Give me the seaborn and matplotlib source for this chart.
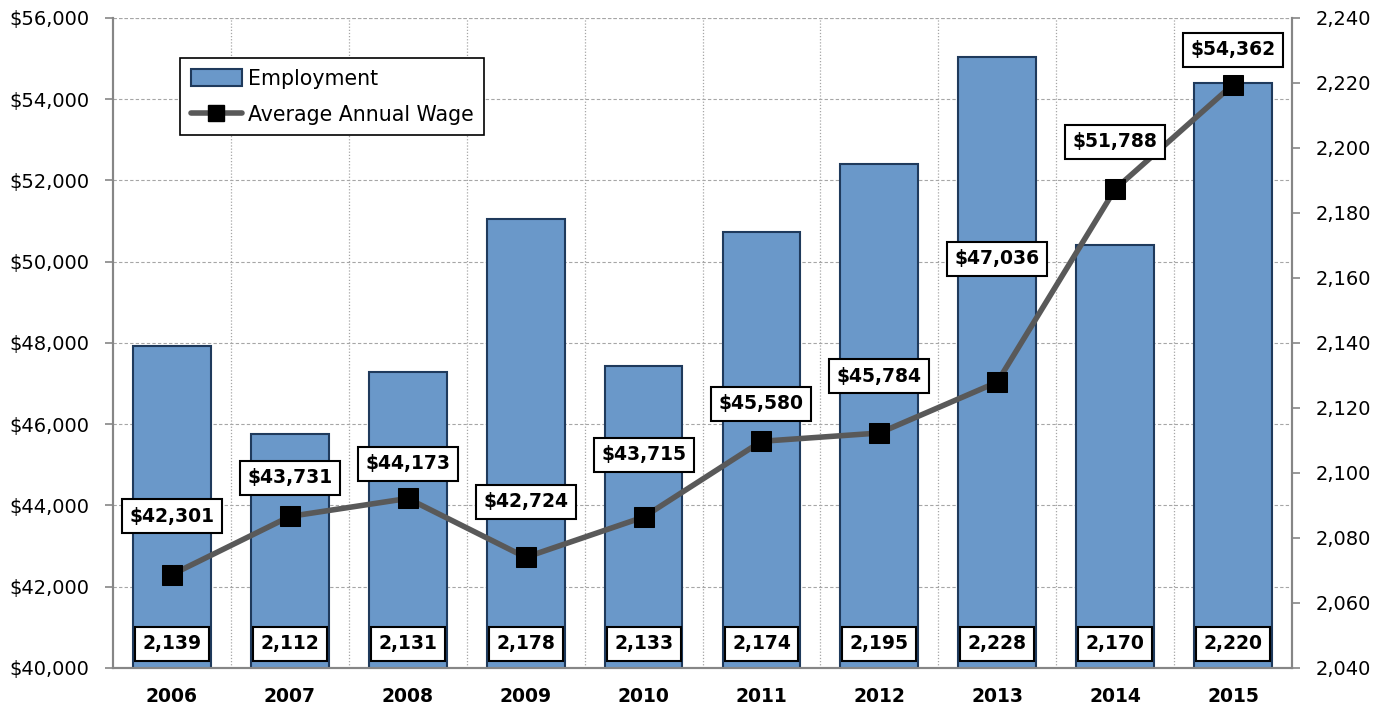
import matplotlib
matplotlib.use("Agg")
import matplotlib.pyplot as plt
import seaborn as sns
import pandas as pd
import numpy as np
from matplotlib.lines import Line2D
from matplotlib.patches import Patch
from matplotlib.ticker import FuncFormatter

# data
years = ["2006", "2007", "2008", "2009", "2010", "2011", "2012", "2013", "2014", "2015"]
employment = [2139, 2112, 2131, 2178, 2133, 2174, 2195, 2228, 2170, 2220]
avg_wage = [42301, 43731, 44173, 42724, 43715, 45580, 45784, 47036, 51788, 54362]

# label offsets above each wage point (points)
wage_label_dy = [42, 28, 25, 40, 45, 27, 41, 89, 34, 25]

df = pd.DataFrame({"year": years, "employment": employment, "wage": avg_wage})

sns.set_theme(style="white")
plt.rcParams["font.family"] = ["DejaVu Sans"]
plt.rcParams["text.color"] = "black"

BAR = "#6A98C9"
EDGE = "#1F3A5C"
GRID = "#A6A6A6"
SPINE = "#868686"

fig = plt.figure(figsize=(13.87, 7.11), dpi=100)
ax = fig.add_axes([0.0815, 0.0605, 0.850, 0.9142])

# bars (employment) on the primary axes, shown on the right
sns.barplot(data=df, x="year", y="employment", color=BAR, width=0.66,
            edgecolor=EDGE, linewidth=1.5, saturation=1, ax=ax, zorder=2)
ax.set_ylim(2040, 2240)
ax.set_xlim(-0.5, len(years) - 0.5)

# horizontal grid following the wage ticks (behind the bars)
for g in np.linspace(2040, 2240, 9)[1:]:
    ax.axhline(g, color=GRID, lw=0.8, ls=(0, (3, 2)), zorder=0)
# vertical dotted grid at category boundaries
for b in np.arange(0.5, len(years) - 0.5, 1):
    ax.axvline(b, color=GRID, lw=0.9, ls=(0, (1, 1.5)), zorder=0)

ax.set_xlabel("")
ax.set_ylabel("")
ax.set_xticks(range(len(years)))
ax.set_xticklabels(years, fontsize=13.5, fontweight="bold")
ax.set_xticks(np.arange(-0.5, len(years), 1), minor=True)
ax.tick_params(axis="x", which="major", length=0, pad=14, labelcolor="black")
ax.tick_params(axis="x", which="minor", length=7, width=1.2, color=SPINE, direction="out")

for i, v in enumerate(employment):
    ax.text(i, 2040 + 7.5, f"{v:,}", ha="center", va="center", fontsize=13.5,
            fontweight="bold", zorder=5,
            bbox=dict(boxstyle="square,pad=0.4", fc="white", ec="black", lw=1.5))

# wage line on twin axes, shown on the left
ax2 = ax.twinx()
sns.lineplot(data=df, x="year", y="wage", color="#595959", lw=4, marker="s",
             markersize=14, markerfacecolor="black", markeredgecolor="black",
             ax=ax2, zorder=3, sort=False)
ax2.set_ylim(40000, 56000)
ax2.set_yticks(np.arange(40000, 56001, 2000))
ax2.yaxis.set_major_formatter(FuncFormatter(lambda v, p: f"${int(v):,}"))
ax2.yaxis.tick_left()
ax2.set_ylabel("")
ax2.set_xlabel("")

# twinx flips the primary axis to the left, so put it back on the right
ax.yaxis.tick_right()
ax.set_yticks(np.arange(2040, 2241, 20))
ax.yaxis.set_major_formatter(FuncFormatter(lambda v, p: f"{int(v):,}"))
ax.tick_params(axis="y", which="major", length=6, width=1.2, color=SPINE,
               direction="out", labelsize=14, pad=11, labelcolor="black")
ax2.tick_params(axis="y", which="major", length=6, width=1.2, color=SPINE,
                direction="out", labelsize=14, pad=11, labelcolor="black")

for i, (v, dy) in enumerate(zip(avg_wage, wage_label_dy)):
    ax2.annotate(f"${v:,}", (i, v), xytext=(0, dy), textcoords="offset points",
                 ha="center", va="center", fontsize=13.5, fontweight="bold", zorder=6,
                 bbox=dict(boxstyle="square,pad=0.4", fc="white", ec="black", lw=1.5))

for a in (ax, ax2):
    a.spines["top"].set_visible(False)
    for s in ("left", "right", "bottom"):
        a.spines[s].set_color(SPINE)
        a.spines[s].set_linewidth(1.5)
# top dashed gridline
ax.axhline(2240, color=GRID, lw=0.8, ls=(0, (3, 2)), zorder=0)

handles = [Patch(facecolor=BAR, edgecolor=EDGE, lw=1.5),
           Line2D([], [], color="#595959", lw=4, marker="s", markersize=12,
                  markerfacecolor="black", markeredgecolor="black")]
leg = ax2.legend(handles, ["Employment", "Average Annual Wage"], loc="upper left",
                 bbox_to_anchor=(0.057, 0.938), borderaxespad=0, fontsize=14.8,
                 frameon=True, fancybox=False, edgecolor="black", framealpha=1,
                 handlelength=2.5, handleheight=0.85, labelspacing=0.8,
                 borderpad=0.5, handletextpad=0.3)
leg.get_frame().set_linewidth(1.2)
for t in leg.get_texts():
    t.set_color("black")

fig.savefig("out.png", dpi=100)
